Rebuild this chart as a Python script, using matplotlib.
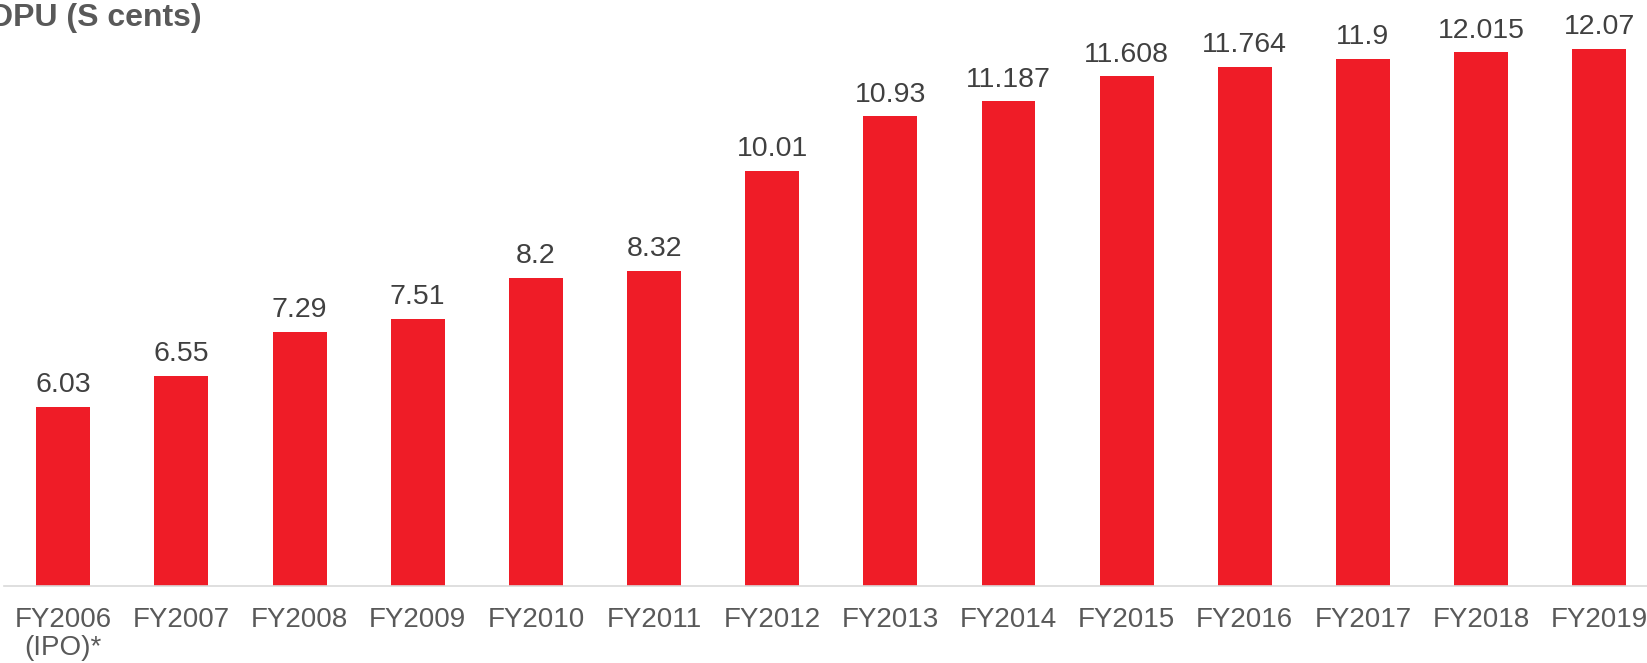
import matplotlib
matplotlib.use("Agg")
import matplotlib.pyplot as plt

plt.rcParams['font.family'] = ['Liberation Sans', 'DejaVu Sans']

categories = ["FY2006\n(IPO)*", "FY2007", "FY2008", "FY2009", "FY2010", "FY2011", "FY2012",
              "FY2013", "FY2014", "FY2015", "FY2016", "FY2017", "FY2018", "FY2019"]
dpu = [6.03, 6.55, 7.29, 7.51, 8.2, 8.32, 10.01, 10.93, 11.187, 11.608, 11.764, 11.9, 12.015, 12.07]
labels = ["6.03", "6.55", "7.29", "7.51", "8.2", "8.32", "10.01", "10.93", "11.187", "11.608",
          "11.764", "11.9", "12.015", "12.07"]
title = "DPU (S cents)"

W, H = 1647, 663
fig = plt.figure(figsize=(W / 100, H / 100), dpi=100)
ax = fig.add_axes([4.2 / W, 77 / H, 1 - 4.2 / W, 1 - 77 / H])

x = list(range(len(categories)))
ax.bar(x, dpu, width=0.457, color='#EF1C27', bottom=0)
ax.set_ylim(3, 12.895)
ax.set_xlim(-0.5, 13.404)

for xi, v, lab in zip(x, dpu, labels):
    ax.annotate(lab, (xi, v), xytext=(0, 10.5), textcoords='offset points',
                ha='center', va='baseline', fontsize=20.5, color='#404040')

for s in ['top', 'right', 'left']:
    ax.spines[s].set_visible(False)
ax.spines['bottom'].set_color('#D9D9D9')
ax.spines['bottom'].set_linewidth(1.2)
ax.set_yticks([])
ax.set_xticks(x)
ax.set_xticklabels(categories, fontsize=20, color='#595959', linespacing=1.12)
ax.tick_params(axis='x', length=0, pad=15)

fig.text(202 / W, 1 - 26 / H, title, ha='right', va='baseline', fontsize=23,
         fontweight='bold', color='#595959')

fig.savefig('out.png', dpi=100)
